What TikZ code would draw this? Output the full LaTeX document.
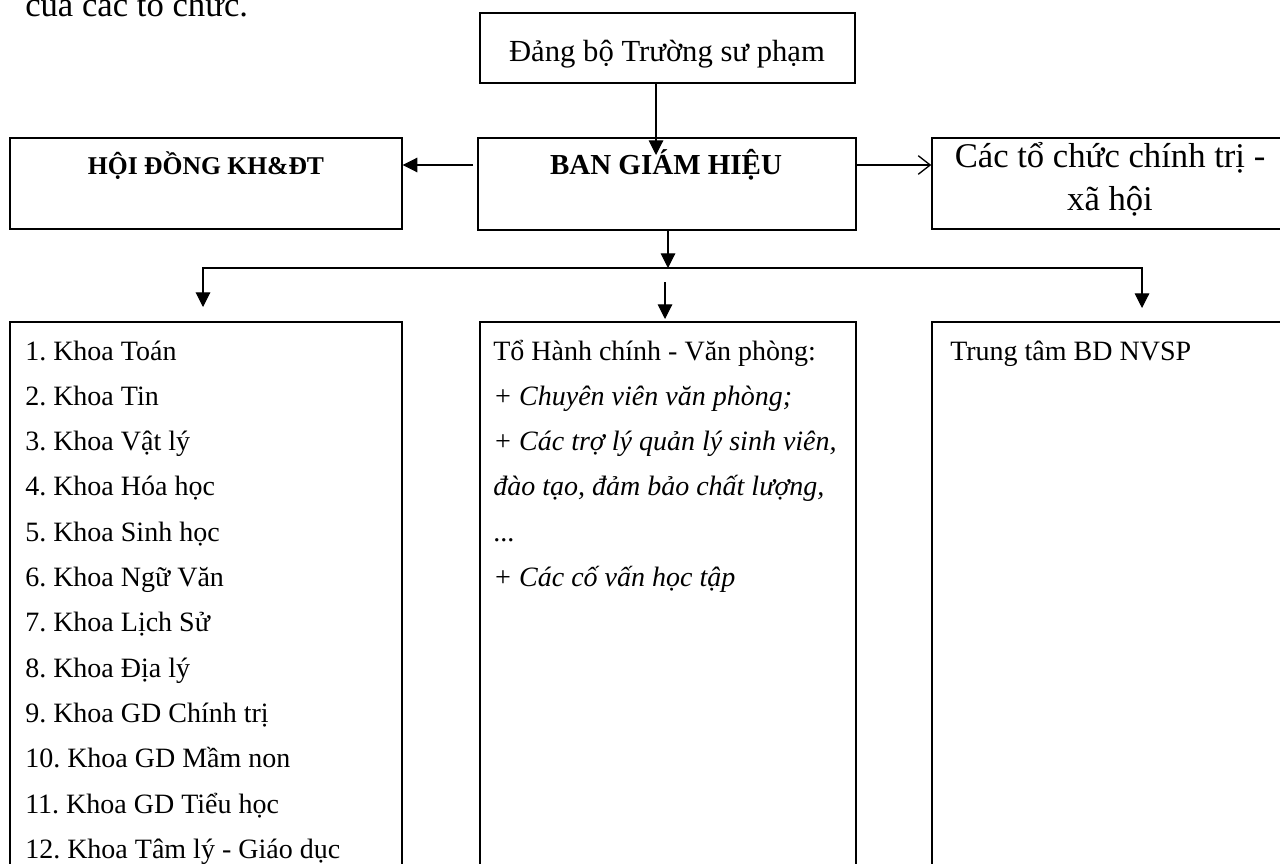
\documentclass[tikz,border=0pt]{standalone}
\usepackage{fontspec}
\setmainfont{Liberation Serif}
\frenchspacing
\usetikzlibrary{arrows.meta,fit}
\begin{document}
\begin{tikzpicture}[x=0.75pt,y=-0.75pt,
  box/.style={draw, line width=1.1pt, inner sep=0pt},
  thinbox/.style={draw, line width=0.8pt, inner sep=0pt},
  conn/.style={line width=0.8pt},
  tri/.style={conn,-{Triangle[length=11pt,width=11pt]}},
  bitri/.style={conn,{Triangle[length=11pt,width=11pt]}-{Triangle[length=11pt,width=11pt]}},
  barb/.style={conn,-{Straight Barb[length=9pt,width=14pt,line width=1pt]}},
  lbl/.style={inner sep=0pt, font=\fontsize{21}{25}\selectfont},
  head/.style={inner sep=0pt, font=\fontsize{21.75}{26}\selectfont\bfseries},
  headsm/.style={inner sep=0pt, font=\fontsize{19.2}{23}\selectfont\bfseries},
  bigt/.style={inner sep=0pt, font=\fontsize{26}{30}\selectfont},
  topt/.style={inner sep=0pt, font=\fontsize{23}{27}\selectfont}]
\useasboundingbox (0,0) rectangle (1280,863);

% closing words of the preceding paragraph
\node[bigt, anchor=base west] (cap) at (25,17) {của các tổ chức.};

% upper row of boxes
\node[thinbox, fit={(480,13) (855,83)}] (dang) {};
\node[topt, anchor=base] (dangt) at (667,62) {Đảng bộ Trường sư phạm};

\node[box, fit={(10,138) (402,229)}] (hd) {};
\node[headsm, anchor=base] (hdt) at (206,175) {HỘI ĐỒNG KH\&ĐT};

\node[box, fit={(478,138) (856,230)}] (bgh) {};
\node[head, anchor=base] (bght) at (666,175) {BAN GIÁM HIỆU};

\node[box, fit={(932,138) (1290,229)}] (ct) {};
\node[bigt, anchor=base] (ct1) at (1110,167) {Các tổ chức chính trị -};
\node[bigt, anchor=base] (ct2) at (1110,210) {xã hội};

% lower row of boxes (open at the bottom edge)
\node[box, fit={(10,322) (402,900)}] (khoa) {};
\node[box, fit={(480,322) (856,900)}] (hc) {};
\node[box, fit={(932,322) (1290,900)}] (tt) {};

% faculties
\foreach \t [count=\i] in {1. Khoa Toán, 2. Khoa Tin, 3. Khoa Vật lý, 4. Khoa Hóa học,
  5. Khoa Sinh học, 6. Khoa Ngữ Văn, 7. Khoa Lịch Sử, 8. Khoa Địa lý,
  9. Khoa GD Chính trị, 10. Khoa GD Mầm non, 11. Khoa GD Tiểu học,
  12. Khoa Tâm lý - Giáo dục}
  \node[lbl, anchor=base west] (k\i) at (25,{360+(\i-1)*45.3}) {\t};

% administrative office
\node[lbl, anchor=base west] (h1) at (493,360) {Tổ Hành chính - Văn phòng:};
\node[lbl, anchor=base west] (h2) at (493,405.3) {\itshape + Chuyên viên văn phòng;};
\node[lbl, anchor=base west] (h3) at (493,450.6) {\itshape + Các trợ lý quản lý sinh viên,};
\node[lbl, anchor=base west] (h4) at (493,495.9) {\itshape đào tạo, đảm bảo chất lượng,};
\node[lbl, anchor=base west] (h5) at (493,541.2) {...};
\node[lbl, anchor=base west] (h6) at (493,586.5) {\itshape + Các cố vấn học tập};

% training centre
\node[lbl, anchor=base west] (t1) at (950,360) {Trung tâm BD NVSP};

% connectors
\coordinate (pA) at (656,155);
\draw[tri] (pA |- dang.south) -- (pA);

\coordinate (pB) at (473,165);
\draw[tri] (pB) -- (pB -| hd.east);
\draw[barb] (bgh.east |- pB) -- (ct.west |- pB);

\coordinate (bus) at (668,268);
\draw[tri] (bus |- bgh.south) -- (bus);
\coordinate (busL) at (203,307);
\coordinate (busR) at (1142,308);
\draw[bitri] (busL) |- (bus) -| (busR);

\coordinate (midA) at (665,282);
\coordinate (midB) at (665,319);
\draw[tri] (midA) -- (midB);
\end{tikzpicture}
\end{document}
